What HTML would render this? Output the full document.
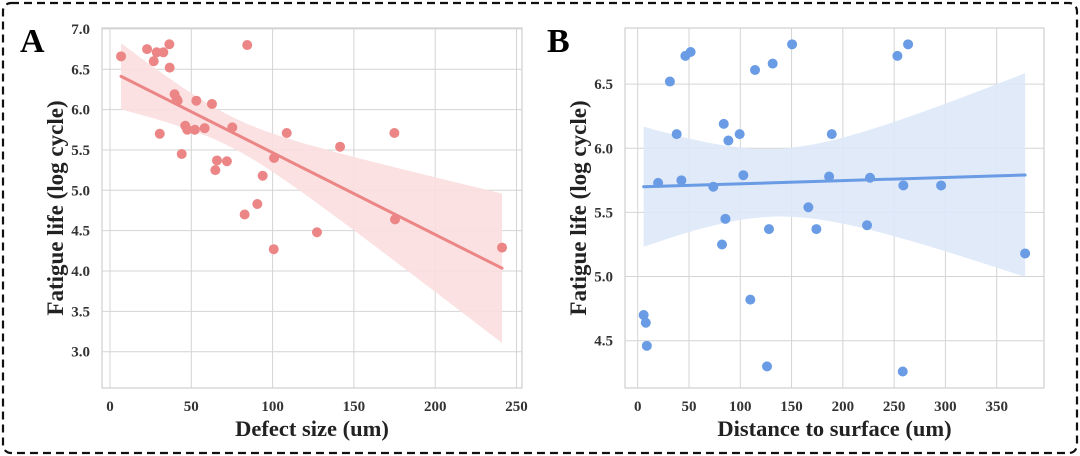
<!DOCTYPE html>
<html><head><meta charset="utf-8"><style>
body{margin:0;background:#fff;}
svg{display:block;font-family:"Liberation Serif",serif;font-weight:bold;}
</style></head><body>
<svg id="fig" width="1080" height="456" viewBox="0 0 1080 456">
<rect x="3" y="3" width="1074" height="450" rx="8" fill="none" stroke="#111" stroke-width="2.2" stroke-dasharray="8,5"/>
<g id="pa"></g>
<g id="pb"></g>
</svg>
<script>
const defectSize=[6.8,22.8,26.9,28.7,32.8,36.5,36.7,30.6,39.7,41,41.6,44.1,46.3,47.5,52.2,53.1,58.2,62.7,64.8,65.8,71.9,75.2,84.4,82.8,90.6,93.9,100.7,100.9,108.7,127.3,141.5,174.9,175.3,241.1];
const lifeA=[6.66,6.75,6.60,6.71,6.71,6.81,6.52,5.70,6.19,6.13,6.11,5.45,5.80,5.75,5.75,6.11,5.77,6.07,5.25,5.37,5.36,5.78,6.80,4.70,4.83,5.18,4.27,5.40,5.71,4.48,5.54,5.71,4.64,4.29];
const distance=[5.8,7.9,8.9,19.9,31.4,38.0,42.6,46.5,51.6,73.7,82.2,83.9,85.5,88.4,99.4,103,109.8,114.4,126.1,128,131.6,150.5,166.4,174.2,186.6,189.2,223.6,226.5,253.2,259.0,258.4,263.6,295.8,377.7];
const lifeB=[4.70,4.64,4.46,5.73,6.52,6.11,5.75,6.72,6.75,5.70,5.25,6.19,5.45,6.06,6.11,5.79,4.82,6.61,4.30,5.37,6.66,6.81,5.54,5.37,5.78,6.11,5.40,5.77,6.72,5.71,4.26,6.81,5.71,5.18];
const xTicksA=[0,50,100,150,200,250];
const yTicksA=[3.0,3.5,4.0,4.5,5.0,5.5,6.0,6.5,7.0];
const xTicksB=[0,50,100,150,200,250,300,350];
const yTicksB=[4.5,5.0,5.5,6.0,6.5];
const NS="http://www.w3.org/2000/svg";
function mk(p,t,a){const e=document.createElementNS(NS,t);for(const k in a)e.setAttribute(k,a[k]);p.appendChild(e);return e;}
function panel(g,o){
  const sx=v=>o.x0+(v-o.xmin)*o.kx, sy=v=>o.y0-(v-o.ymin)*o.ky;
  const L=o.left,R=o.right,T=28,B=388;
  let e=mk(g,'rect',{x:L,y:T,width:R-L,height:B-T,fill:'#fff',stroke:'#cfcfcf','stroke-width':1.2});
  
  o.xt.forEach(t=>{const x=sx(t);
    e=mk(g,'line',{x1:x,x2:x,y1:T,y2:B,stroke:'#d4d4d4','stroke-width':1});
    
    e=mk(g,'text',{x:x,y:411,'text-anchor':'middle','font-size':15,fill:'#333'});e.textContent=String(t);
    });
  o.yt.forEach(t=>{const y=sy(t);
    e=mk(g,'line',{x1:L,x2:R,y1:y,y2:y,stroke:'#d4d4d4','stroke-width':1});
    
    e=mk(g,'text',{x:L-12,y:y+5,'text-anchor':'end','font-size':15,fill:'#333'});e.textContent=t.toFixed(1);
    });
  const X=o.xs,Y=o.ys,n=X.length;const mx=X.reduce((a,b)=>a+b)/n,my=Y.reduce((a,b)=>a+b)/n;
  let sxx=0,sxy=0;X.forEach((x,i)=>{sxx+=(x-mx)**2;sxy+=(x-mx)*(Y[i]-my);});
  const b=sxy/sxx,a=my-b*mx;let sse=0;X.forEach((x,i)=>{sse+=(Y[i]-a-b*x)**2;});
  const s=Math.sqrt(sse/(n-2)),tq=2.04;
  const xmn=Math.min(...X),xmx=Math.max(...X);let up=[],lo=[];
  for(let i=0;i<=60;i++){const x=xmn+(xmx-xmn)*i/60,yh=a+b*x,h=tq*s*Math.sqrt(1/n+o.k*(x-mx)**2/sxx);
    up.push(sx(x)+','+sy(yh+h));lo.unshift(sx(x)+','+sy(yh-h));}
  e=mk(g,'polygon',{points:up.concat(lo).join(' '),fill:o.band,opacity:0.9});
  
  X.forEach((x,i)=>{e=mk(g,'circle',{cx:sx(x),cy:sy(Y[i]),r:5,fill:o.col});
    });
  e=mk(g,'line',{x1:sx(xmn),y1:sy(a+b*xmn),x2:sx(xmx),y2:sy(a+b*xmx),stroke:o.col,'stroke-width':3,'stroke-linecap':'round'});
  
  e=mk(g,'text',{x:(L+R)/2,y:436,'text-anchor':'middle','font-size':22.5,fill:'#222'});e.textContent=o.xl;
  
  e=mk(g,'text',{x:0,y:0,'text-anchor':'middle','font-size':23,fill:'#222',transform:`translate(${o.ylx},208) rotate(-90)`});e.textContent='Fatigue life (log cycle)';
  
  e=mk(g,'text',{x:o.lx,y:52,'font-size':34,fill:'#000'});e.textContent=o.lab;
  
}
panel(document.getElementById('pa'),{left:102,right:522,x0:110,xmin:0,kx:1.626,y0:351.7,ymin:3.0,ky:80.7,k:2,
 xt:xTicksA,yt:yTicksA,xs:defectSize,ys:lifeA,col:'#ec8686',band:'#fbdede',xl:'Defect size (um)',ylx:63,lx:20,lab:'A'});
panel(document.getElementById('pb'),{left:625,right:1044,x0:637.7,xmin:0,kx:1.0257,y0:340.7,ymin:4.5,ky:128.3,k:1.15,
 xt:xTicksB,yt:yTicksB,xs:distance,ys:lifeB,col:'#6a9be5',band:'#dde8f8',xl:'Distance to surface (um)',ylx:586,lx:547,lab:'B'});
</script>
</body></html>
